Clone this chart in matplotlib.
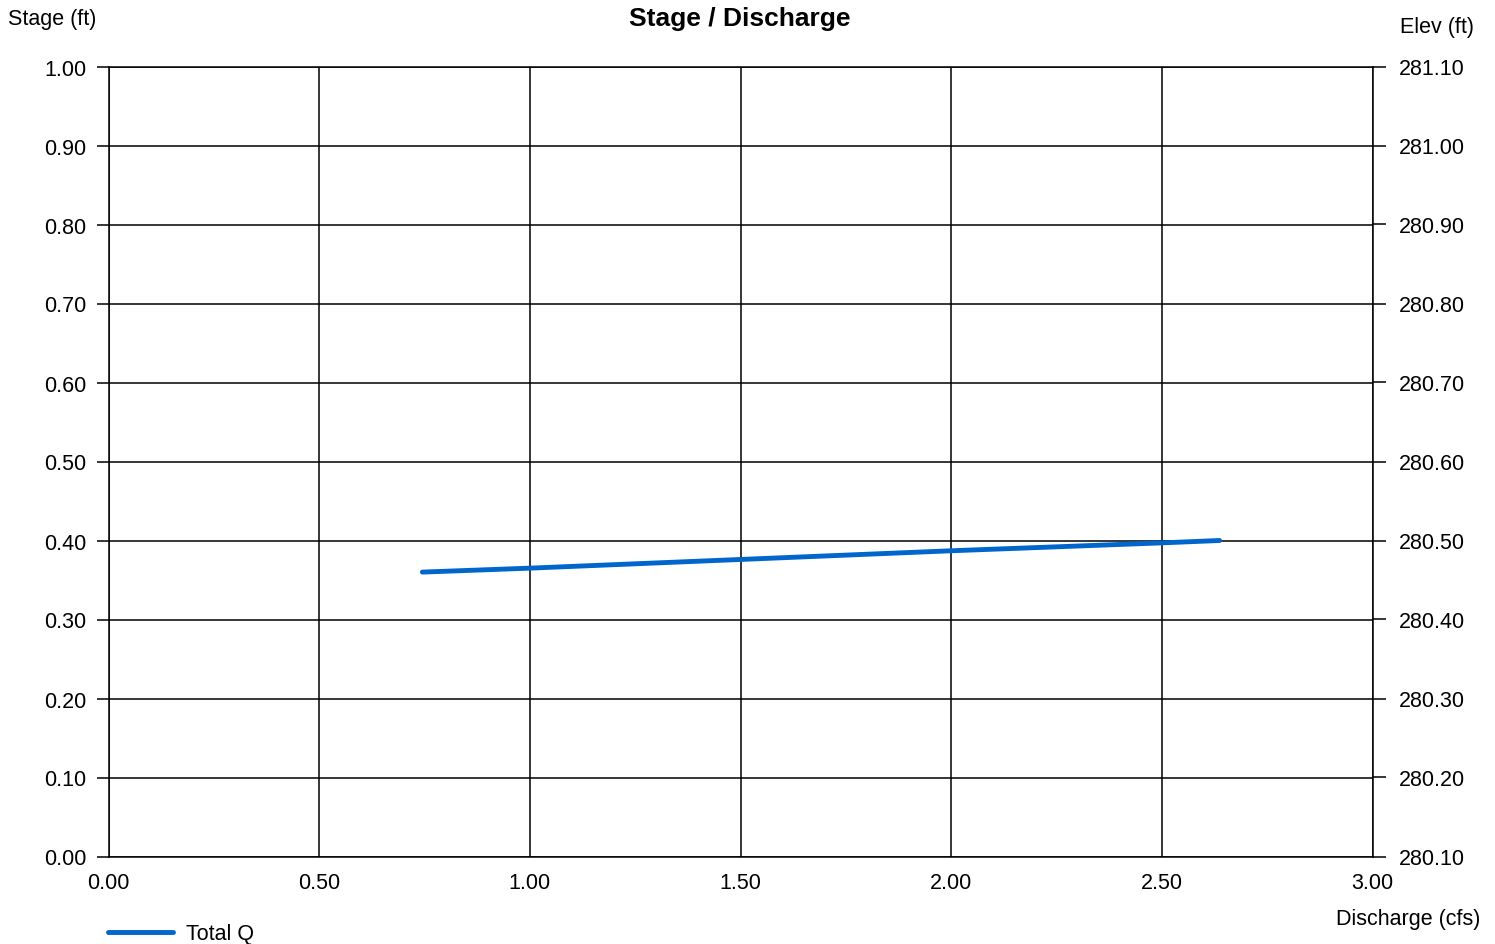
import numpy as np
import matplotlib.pyplot as plt

plt.rcParams['font.family'] = ['Liberation Sans', 'DejaVu Sans']

# The data
discharge = [0.745, 1.00, 1.50, 2.00, 2.50, 2.637]
stage = [0.360, 0.365, 0.376, 0.387, 0.397, 0.400]
base_elev = 280.10

xticks = np.arange(0, 3.01, 0.5)
yticks = np.arange(0, 1.01, 0.1)

fig = plt.figure(figsize=(14.95, 9.45), dpi=100)
ax = fig.add_axes([108.5/1495, 87.5/945, 1264/1495, 790/945])

line, = ax.plot(discharge, stage, color='#0066cc', linewidth=3.5,
                solid_capstyle='round', label='Total Q', zorder=3)

ax.set_xlim(0, 3)
ax.set_ylim(0, 1)
ax.set_xticks(xticks)
ax.set_yticks(yticks)
ax.set_xticklabels(['%.2f' % v for v in xticks])
ax.set_yticklabels(['%.2f' % v for v in yticks])
ax.grid(True, color='black', linewidth=1.1)
for s in ax.spines.values():
    s.set_color('black')
    s.set_linewidth(1.1)
ax.tick_params(axis='x', length=0, pad=11, labelsize=15.5)
ax.tick_params(axis='y', length=9, width=1.1, pad=7, labelsize=15.5)

# right axis with elevation
ax2 = ax.twinx()
ax2.set_ylim(base_elev, base_elev + 1)
ax2.set_yticks(base_elev + yticks)
ax2.set_yticklabels(['%.2f' % (base_elev + v) for v in yticks])
ax2.tick_params(axis='y', length=9, width=1.1, pad=10, labelsize=15.5)
for s in ax2.spines.values():
    s.set_visible(False)

# titles and labels
fig.text(740/1495, 1 - 19/945, 'Stage / Discharge', ha='center', va='center',
         fontsize=19, fontweight='bold')
fig.text(8/1495, 1 - 20/945, 'Stage (ft)', ha='left', va='center', fontsize=15.5)
fig.text(1400/1495, 1 - 28/945, 'Elev (ft)', ha='left', va='center', fontsize=15.5)
fig.text(1480/1495, 1 - 920/945, 'Discharge (cfs)', ha='right', va='center', fontsize=15.5)

# legend
fig.legend(handles=[line], loc='center left', bbox_to_anchor=(108/1495, 1 - 935/945),
           frameon=False, fontsize=15.5, handlelength=3.0, handletextpad=0.6,
           borderaxespad=0, borderpad=0)

fig.savefig('out.png', dpi=100)
